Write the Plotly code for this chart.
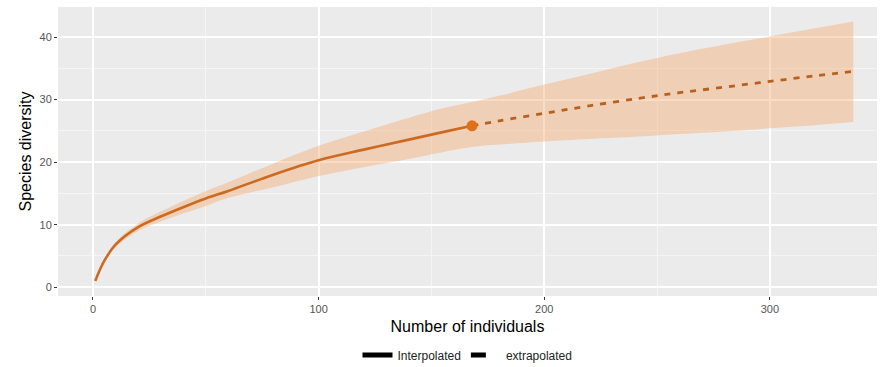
import plotly.graph_objects as go

# Interpolated (rarefaction) part
interp_x = [1, 5, 10, 20, 30, 40, 50, 60, 80, 100, 120, 140, 155, 168]
interp_y = [1.0, 4.2, 6.8, 9.6, 11.3, 12.8, 14.2, 15.4, 18.0, 20.3, 22.0, 23.6, 24.8, 25.8]
interp_lo = [1.0, 4.0, 6.4, 9.0, 10.5, 11.8, 13.0, 14.3, 16.0, 17.8, 19.2, 20.5, 21.6, 22.4]
interp_hi = [1.0, 4.4, 7.2, 10.2, 12.1, 13.8, 15.4, 16.8, 19.8, 22.6, 24.9, 27.1, 28.6, 29.6]

# Extrapolated part
extrap_x = [168, 180, 200, 220, 242, 260, 280, 300, 320, 337]
extrap_y = [25.8, 26.6, 27.8, 29.0, 30.2, 31.1, 32.0, 32.9, 33.8, 34.5]
extrap_lo = [22.4, 22.8, 23.3, 23.7, 24.1, 24.5, 24.9, 25.4, 25.9, 26.4]
extrap_hi = [29.6, 30.6, 32.4, 34.1, 36.0, 37.4, 38.8, 40.1, 41.4, 42.5]

obs_x = [168]
obs_y = [25.8]

x_ticks = [0, 100, 200, 300]
y_ticks = [0, 10, 20, 30, 40]

line_col = "#CD6A22"
fill_col = "rgba(246,170,110,0.42)"

band_x = interp_x + extrap_x[1:]
band_lo = interp_lo + extrap_lo[1:]
band_hi = interp_hi + extrap_hi[1:]

fig = go.Figure()
fig.add_trace(go.Scatter(x=band_x, y=band_lo, mode="lines", line=dict(width=0, shape="spline"),
                         showlegend=False, hoverinfo="skip"))
fig.add_trace(go.Scatter(x=band_x, y=band_hi, fill="tonexty", fillcolor=fill_col,
                         line=dict(width=0, shape="spline"),
                         mode="lines", showlegend=False, hoverinfo="skip"))
fig.add_trace(go.Scatter(x=interp_x, y=interp_y, mode="lines",
                         line=dict(color=line_col, width=2.6, shape="spline"),
                         showlegend=False))
fig.add_trace(go.Scatter(x=extrap_x, y=extrap_y, mode="lines",
                         line=dict(color="#B8611F", width=2.8, dash="6px,7px", shape="spline"),
                         showlegend=False))
fig.add_trace(go.Scatter(x=obs_x, y=obs_y, mode="markers",
                         marker=dict(color="#E0701A", size=11), showlegend=False))
# legend entries
fig.add_trace(go.Scatter(x=[None], y=[None], mode="lines", name="Interpolated",
                         line=dict(color="black", width=2.5)))
fig.add_trace(go.Scatter(x=[None], y=[None], mode="lines", name="extrapolated",
                         line=dict(color="black", width=2.5, dash="dash")))

axis_common = dict(showline=False, zeroline=False, gridcolor="white", gridwidth=1.6,
                   ticks="outside", ticklen=3, tickcolor="#333333", automargin=False,
                   tickfont=dict(size=11, color="#555555", family="Liberation Sans"))
fig.update_xaxes(range=[-15.5, 347.5], tickvals=x_ticks,
                 minor=dict(dtick=50, tick0=0, showgrid=True, gridcolor="#F5F5F5", gridwidth=0.7, ticks=""),
                 title=dict(text="Number of individuals", font=dict(size=16, color="black", family="Liberation Sans"), standoff=6),
                 **axis_common)
fig.update_yaxes(range=[-1.4, 44.8], tickvals=y_ticks,
                 minor=dict(dtick=5, tick0=0, showgrid=True, gridcolor="#F5F5F5", gridwidth=0.7, ticks=""),
                 title=dict(text="Species diversity", font=dict(size=16, color="black", family="Liberation Sans"), standoff=3),
                 **axis_common)
fig.update_layout(width=883, height=367, margin=dict(l=58, r=6, t=7, b=71, autoexpand=False),
                  plot_bgcolor="#EBEBEB", paper_bgcolor="white",
                  font=dict(family="Liberation Sans"),
                  legend=dict(orientation="h", x=0.5, xanchor="center", y=-0.204, yanchor="middle",
                              traceorder="normal",
                              font=dict(size=12, color="#222222"), itemwidth=30, tracegroupgap=0,
                              itemsizing="constant"))
fig.write_html("out.html", config={"displayModeBar": False},
               post_script="document.body.style.margin='0';document.body.style.padding='0';")
